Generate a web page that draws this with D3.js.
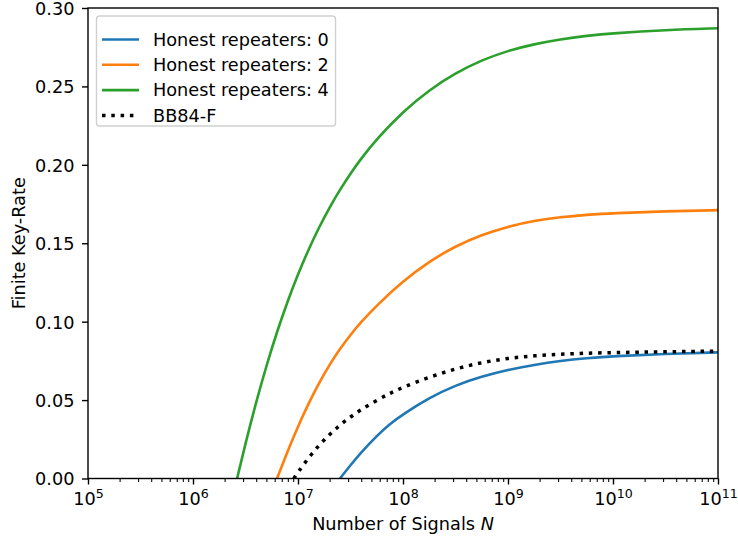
<!DOCTYPE html>
<html>
<head>
<meta charset="utf-8">
<script src="https://cdn.jsdelivr.net/npm/d3@7"></script>
<style>
  html, body { margin: 0; padding: 0; background: #fff; }
  svg { display: block; }
  text { font-family: "DejaVu Sans", sans-serif; fill: #000; }
</style>
</head>
<body>
<svg id="chart" width="738" height="538"></svg>
<script>
// Finite key-rate versus number of signals (log10 N exponents and rates)
const rep0Exp  = [7.40, 7.50, 7.60, 7.75, 7.875, 8.00, 8.25, 8.50, 8.75, 9.00, 9.25, 9.50, 9.75, 10.0, 10.5, 11.0];
const rep0Rate = [0.000, 0.0085, 0.0165, 0.0272, 0.0348, 0.0410, 0.0515, 0.0595, 0.065, 0.0693, 0.0725, 0.075, 0.0767, 0.0780, 0.0795, 0.0804];

const rep2Exp  = [6.80, 6.90, 7.00, 7.10, 7.20, 7.30, 7.40, 7.50, 7.60, 7.75, 8.00, 8.25, 8.50, 8.75, 9.00, 9.25, 9.50, 9.75, 10.0, 10.5, 11.0];
const rep2Rate = [0.000, 0.0172, 0.0332, 0.0478, 0.0609, 0.0725, 0.0827, 0.0917, 0.0997, 0.1104, 0.1259, 0.1384, 0.1482, 0.1554, 0.1607, 0.1644, 0.1667, 0.1682, 0.1692, 0.1704, 0.1711];

const rep4Exp  = [6.42, 6.50, 6.60, 6.70, 6.80, 6.90, 7.00, 7.10, 7.20, 7.30, 7.40, 7.50, 7.60, 7.75, 8.00, 8.25, 8.50, 8.75, 9.00, 9.25, 9.50, 9.75, 10.0, 10.5, 11.0];
const rep4Rate = [0.000, 0.0224, 0.0484, 0.0721, 0.0936, 0.1129, 0.1303, 0.146, 0.1601, 0.1728, 0.1842, 0.1945, 0.2039, 0.2165, 0.234, 0.2478, 0.2585, 0.2668, 0.2728, 0.277, 0.2801, 0.2823, 0.2839, 0.286, 0.2871];

const bb84Exp  = [6.96, 7.00, 7.10, 7.20, 7.30, 7.40, 7.50, 7.60, 7.75, 7.875, 8.00, 8.25, 8.50, 8.75, 9.00, 9.25, 9.50, 9.75, 10.0, 10.5, 11.0];
const bb84Rate = [0.000, 0.004, 0.0132, 0.0212, 0.0281, 0.0341, 0.0393, 0.0439, 0.0499, 0.0543, 0.0582, 0.0647, 0.0700, 0.0740, 0.0767, 0.0783, 0.0793, 0.0799, 0.0803, 0.0808, 0.0812];

const seriesNames = ["Honest repeaters: 0", "Honest repeaters: 2", "Honest repeaters: 4", "BB84-F"];
const xTickExps = [5, 6, 7, 8, 9, 10, 11];
const yTicks = [0.00, 0.05, 0.10, 0.15, 0.20, 0.25, 0.30];
const xLabel = "Number of Signals ";
const xLabelVar = "N";
const yLabel = "Finite Key-Rate";

const FS = 17.7;      // base font size
const LW = 2.6;       // data line width
const AW = 1.4;       // spine / tick width

const svg = d3.select("#chart");
const margin = { left: 88, top: 8 };
const iw = 718 - margin.left, ih = 478.5 - margin.top;

const x = d3.scaleLog().domain([1e5, 1e11]).range([0, iw]);
const y = d3.scaleLinear().domain([0, 0.30]).range([ih, 0]);

const g = svg.append("g").attr("transform", `translate(${margin.left},${margin.top})`);

svg.append("defs").append("clipPath").attr("id", "plotclip")
  .append("rect").attr("x", 0).attr("y", -2).attr("width", iw).attr("height", ih + 2);

const toPts = (ex, rt) => ex.map((e, i) => ({ n: Math.pow(10, e), r: rt[i] }));
const line = d3.line().x(d => x(d.n)).y(d => y(d.r)).curve(d3.curveBasis);

const series = [
  { pts: toPts(rep0Exp, rep0Rate), color: "#1f77b4", dash: null, w: LW },
  { pts: toPts(rep2Exp, rep2Rate), color: "#ff7f0e", dash: null, w: LW },
  { pts: toPts(rep4Exp, rep4Rate), color: "#2ca02c", dash: null, w: LW },
  { pts: toPts(bb84Exp, bb84Rate), color: "#000000", dash: "3.5,5.8", w: 3.5 }
];

const plot = g.append("g").attr("clip-path", "url(#plotclip)");
series.forEach(s => {
  plot.append("path")
    .attr("d", line(s.pts))
    .attr("fill", "none")
    .attr("stroke", s.color)
    .attr("stroke-width", s.w)
    .attr("stroke-linecap", s.dash ? "butt" : "square")
    .attr("stroke-dasharray", s.dash);
});

// Axes
const minorVals = [];
for (let e = 5; e < 11; e++) for (let k = 2; k <= 9; k++) minorVals.push(k * Math.pow(10, e));

const xAxis = g.append("g").attr("transform", `translate(0,${ih})`)
  .call(d3.axisBottom(x).tickValues(xTickExps.map(e => Math.pow(10, e))).tickSize(6).tickFormat(""));
const xMinor = g.append("g").attr("transform", `translate(0,${ih})`)
  .call(d3.axisBottom(x).tickValues(minorVals).tickSize(3.5).tickFormat(""));
xMinor.select(".domain").remove();
xMinor.selectAll("line").attr("stroke-width", 1.05);

const yAxis = g.append("g")
  .call(d3.axisLeft(y).tickValues(yTicks).tickSize(6).tickPadding(7.5).tickFormat(d3.format(".2f")));

[xAxis, yAxis].forEach(a => {
  a.select(".domain").remove();
  a.selectAll("line").attr("stroke-width", AW);
});
yAxis.selectAll("text").attr("font-size", FS).attr("font-family", "DejaVu Sans").attr("dy", "0.36em");

// Power-of-ten labels on the x axis
xAxis.selectAll(".tick").each(function(d) {
  const e = Math.round(Math.log10(d));
  const t = d3.select(this).append("text")
    .attr("y", 26).attr("text-anchor", "middle").attr("font-size", FS).attr("fill", "#000");
  t.append("tspan").text("10");
  t.append("tspan").attr("dy", -6.5).attr("font-size", 12.6).text(e);
});

// Frame
g.append("rect").attr("x", 0).attr("y", 0).attr("width", iw).attr("height", ih)
  .attr("fill", "none").attr("stroke", "#000").attr("stroke-width", AW);

// Axis titles
const xl = svg.append("text").attr("x", margin.left + iw / 2).attr("y", 530)
  .attr("text-anchor", "middle").attr("font-size", FS);
xl.append("tspan").text(xLabel);
xl.append("tspan").attr("font-style", "italic").text(xLabelVar);

svg.append("text").attr("transform", `translate(25,${margin.top + ih / 2}) rotate(-90)`)
  .attr("text-anchor", "middle").attr("font-size", FS).text(yLabel);

// Legend
const lg = g.append("g").attr("transform", "translate(8.5,8)");
lg.append("rect").attr("x", 0).attr("y", 0).attr("width", 239).attr("height", 110)
  .attr("rx", 3).attr("fill", "#fff").attr("fill-opacity", 0.8)
  .attr("stroke", "#d0d0d0").attr("stroke-width", AW);
seriesNames.forEach((name, i) => {
  const yy = 23.5 + i * 25.3;
  const s = series[i];
  lg.append("line").attr("x1", 5.5).attr("x2", 42.5).attr("y1", yy).attr("y2", yy)
    .attr("stroke", s.color).attr("stroke-width", s.w)
    .attr("stroke-dasharray", s.dash);
  lg.append("text").attr("x", 56.5).attr("y", yy).attr("dy", "0.36em")
    .attr("font-size", FS).text(name);
});
</script>
</body>
</html>
